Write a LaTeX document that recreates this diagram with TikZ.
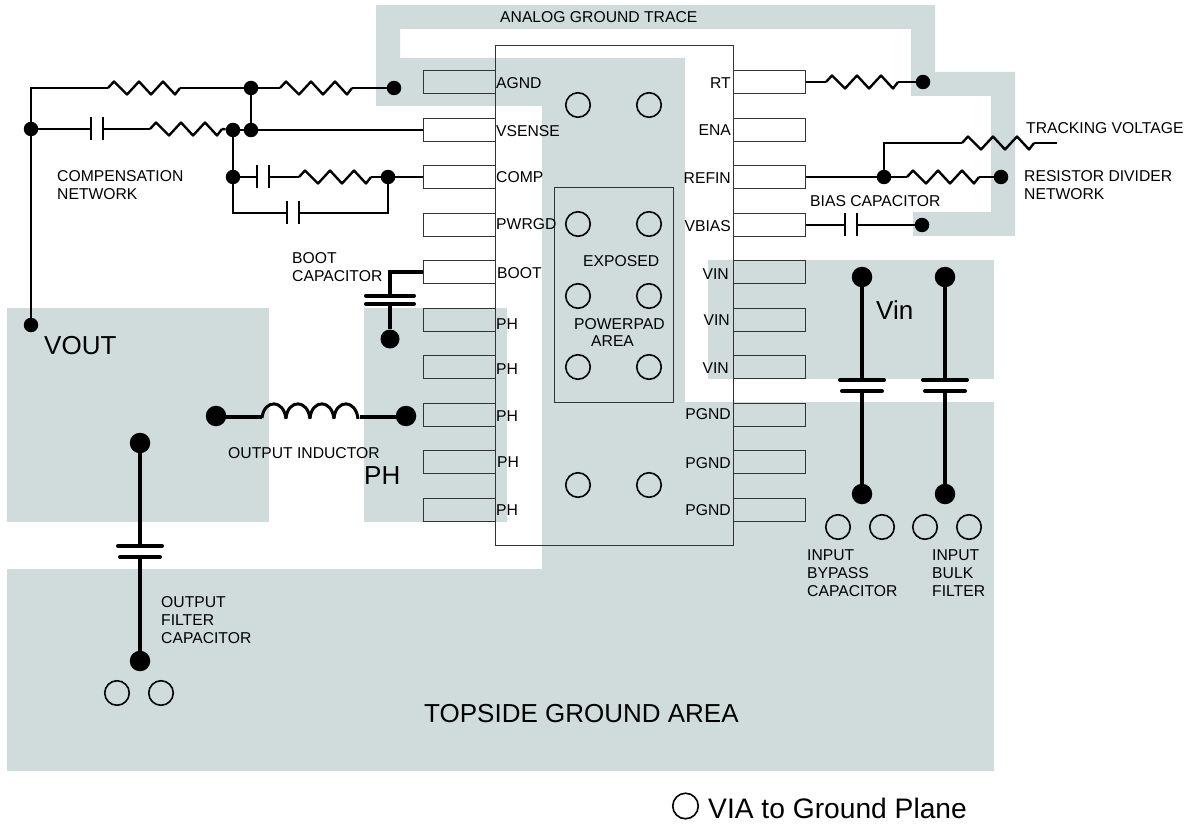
\documentclass[tikz,border=0pt]{standalone}
\usepackage{fontspec}
\setmainfont{Liberation Sans}

\definecolor{padgray}{HTML}{D0DCDC}

\begin{document}
\begin{tikzpicture}[x=1pt, y=-1pt,
    wire/.style={line width=2.4pt},
    thickwire/.style={line width=3.6pt},
    plate/.style={line width=2.4pt},
    heavyplate/.style={line width=4pt, line cap=round},
    dot/.style={circle, fill=black, inner sep=0pt, minimum size=14.5pt},
    bigdot/.style={circle, fill=black, inner sep=0pt, minimum size=20.5pt},
    via/.style={circle, draw=black, line width=1.6pt, inner sep=0pt, minimum size=24.5pt},
    pad/.style={draw=black!80, line width=1pt, inner sep=0pt, minimum width=72pt, minimum height=23.5pt},
    txt/.style={inner sep=0pt, anchor=west, align=left, font=\fontsize{15.7}{18}\selectfont},
    pinr/.style={inner sep=0pt, anchor=east, font=\fontsize{15.7}{18}\selectfont},
    bigtxt/.style={inner sep=0pt, anchor=west, font=\fontsize{26}{30}\selectfont},
    pics/resistor/.style={code={
      \coordinate (-in) at (0,0);
      \coordinate (-out) at (72,0);
      \draw[wire, line join=round] (0,0) -- (6,-6.5) -- (19,6.5) -- (31,-6.5) -- (43,6.5) -- (55,-6.5) -- (67,6.5) -- (72,0);
    }},
    pics/hcapacitor/.style={code={
      \coordinate (-in) at (0,0);
      \coordinate (-out) at (12,0);
      \draw[plate] (0,-11.5) -- (0,11.5);
      \draw[plate] (12,-11.5) -- (12,11.5);
    }},
    pics/vcapacitor/.style n args={3}{code={
      \coordinate (-in) at (0,0);
      \coordinate (-out) at (0,#3);
      \draw[heavyplate] (-#1,0) -- (#1,0);
      \draw[heavyplate] (-#2,#3) -- (#2,#3);
    }}]
  \useasboundingbox (0,0) rectangle (1190,826);

  % copper areas
  \fill[padgray] (376,5) -- (935,5) -- (935,72) -- (1015,72) -- (1015,236) -- (913,236)
    -- (913,212) -- (991,212) -- (991,96) -- (911,96) -- (911,29) -- (400,29) -- (400,58)
    -- (685,58) -- (685,402) -- (994,402) -- (994,771) -- (7,771) -- (7,569) -- (542,569)
    -- (542,106) -- (376,106) -- cycle;
  \fill[padgray] (708,260) rectangle (994,379);
  \fill[padgray] (7,308) rectangle (269,522);
  \fill[padgray] (364,308) rectangle (507,522);

  % package
  \node[draw=black!80, line width=1pt, inner sep=0pt, minimum width=238pt, minimum height=499pt] (chip) at (614,295.5) {};
  \node[draw=black!80, line width=1pt, inner sep=0pt, minimum width=119pt, minimum height=214pt] (powerpad) at (613.5,295) {};

  \foreach \name/\y in {agnd/82, vsense/130, comp/177, pwrgd/225, boot/272, pha/320, phb/367, phc/415, phd/462, phe/510}
    \node[pad] (\name) at (459,\y) {};
  \foreach \name/\y in {rt/82, ena/130, refin/177, vbias/225, vina/272, vinb/320, vinc/367, pgnda/415, pgndb/462, pgndc/510}
    \node[pad] (\name) at (769,\y) {};

  \node[txt] (lagnd) at (496,83) {AGND};
  \node[txt] (lvsense) at (496,131) {VSENSE};
  \node[txt] (lcomp) at (496,177) {COMP};
  \node[txt] (lpwrgd) at (496,224) {PWRGD};
  \node[txt] (lboot) at (497,273) {BOOT};
  \node[txt] (lpha) at (496,324) {PH};
  \node[txt] (lphb) at (496,369) {PH};
  \node[txt] (lphc) at (496,416) {PH};
  \node[txt] (lphd) at (497,462) {PH};
  \node[txt] (lphe) at (496,510) {PH};

  \node[pinr] (lrt) at (731,83) {RT};
  \node[pinr] (lena) at (731,130) {ENA};
  \node[pinr] (lrefin) at (731,178) {REFIN};
  \node[pinr] (lvbias) at (731,226) {VBIAS};
  \node[pinr] (lvina) at (729,274) {VIN};
  \node[pinr] (lvinb) at (730,320) {VIN};
  \node[pinr] (lvinc) at (729,368) {VIN};
  \node[pinr] (lpgnda) at (731,414) {PGND};
  \node[pinr] (lpgndb) at (731,463) {PGND};
  \node[pinr] (lpgndc) at (731,510) {PGND};

  \foreach \x/\y [count=\i] in {578/105, 649/105, 578/224, 649/224, 578/296, 649/296, 578/367, 649/367,
      578/485, 649/485, 838/527, 882/527, 925/527, 969/527, 117/693, 161/693}
    \node[via] (via\i) at (\x,\y) {};
  \node[via, minimum size=25.5pt] (vialegend) at (685.5,806) {};

  % compensation network
  \node[dot] (dvout) at (31,325) {};
  \node[dot] (dleft) at (31,129) {};
  \coordinate (ctop) at (31,88);
  \node[dot] (dtop) at (251,88) {};
  \node[dot] (dagnd) at (394,88) {};
  \node[dot] (dsense) at (251,130) {};
  \node[dot] (dzero) at (233,130) {};
  \node[dot] (dcompl) at (233,177) {};
  \node[dot] (dcompr) at (388,177) {};
  \coordinate (cbl) at (233,213);
  \coordinate (cbr) at (388,213);

  \pic (rtop) at (108,88) {resistor};
  \pic (ragnd) at (280,88) {resistor};
  \pic (cleft) at (91,129) {hcapacitor};
  \pic (rleft) at (150,129) {resistor};
  \pic (cmid) at (257,177) {hcapacitor};
  \pic (rmid) at (299,177) {resistor};
  \pic (clow) at (287,213) {hcapacitor};

  \draw[wire] (dvout) -- (dleft) -- (ctop) -- (rtop-in);
  \draw[wire] (rtop-out) -- (dtop) -- (ragnd-in);
  \draw[wire] (ragnd-out) -- (dagnd);
  \draw[wire] (dtop) -- (dsense);
  \draw[wire] (dsense) -- (vsense);
  \draw[wire] (dleft) -- (cleft-in);
  \draw[wire] (cleft-out) -- (rleft-in);
  \draw[wire] (rleft-out) -- (dzero);
  \draw[wire] (dzero) -- (dsense);
  \draw[wire] (dzero) -- (dcompl) -- (cbl) -- (clow-in);
  \draw[wire] (dcompl) -- (cmid-in);
  \draw[wire] (cmid-out) -- (rmid-in);
  \draw[wire] (rmid-out) -- (dcompr) -- (comp);
  \draw[wire] (clow-out) -- (cbr) -- (dcompr);

  % right side parts
  \node[dot] (drt) at (923,82) {};
  \node[dot] (drefin) at (884,177) {};
  \node[dot] (ddiv) at (1001,177) {};
  \node[dot] (dbias) at (922,225) {};
  \coordinate (ctrack) at (884,143);
  \coordinate (ctrackend) at (1057,143);

  \pic (rrt) at (826,82) {resistor};
  \pic (rdiv) at (907,177) {resistor};
  \pic (rtrack) at (962,143) {resistor};
  \pic (cbias) at (845,225) {hcapacitor};

  \draw[wire] (rt) -- (rrt-in);
  \draw[wire] (rrt-out) -- (drt);
  \draw[wire] (refin) -- (drefin) -- (rdiv-in);
  \draw[wire] (rdiv-out) -- (ddiv);
  \draw[wire] (drefin) -- (ctrack) -- (rtrack-in);
  \draw[wire] (rtrack-out) -- (ctrackend);
  \draw[wire] (vbias) -- (cbias-in);
  \draw[wire] (cbias-out) -- (dbias);

  % boot capacitor
  \coordinate (cboot) at (390,272);
  \node[bigdot, minimum size=19pt] (dboot) at (390,339) {};
  \pic (cb) at (390,295.5) {vcapacitor={24}{24}{8.5}};
  \draw[thickwire] (boot) -- (cboot) -- (cb-in);
  \draw[thickwire] (cb-out) -- (dboot);

  % input capacitors
  \node[bigdot] (dvina) at (862,277) {};
  \node[bigdot] (dvinb) at (945,277) {};
  \node[bigdot] (dgnda) at (862,494) {};
  \node[bigdot] (dgndb) at (945,494) {};
  \pic (cvina) at (862,380) {vcapacitor={22}{20}{11}};
  \pic (cvinb) at (945,380) {vcapacitor={22}{20}{11}};
  \draw[thickwire] (dvina) -- (cvina-in);
  \draw[thickwire] (cvina-out) -- (dgnda);
  \draw[thickwire] (dvinb) -- (cvinb-in);
  \draw[thickwire] (cvinb-out) -- (dgndb);

  % output inductor
  \node[bigdot] (dla) at (216,416) {};
  \node[bigdot] (dlb) at (406,416) {};
  \coordinate (cla) at (262,417);
  \coordinate (clb) at (360,417);
  \draw[thickwire] (dla) -- (dla |- cla) -- (cla);
  \foreach \s in {0,24,48,72}
    \draw[line width=3pt] (262+\s,418) .. controls (264+\s,399) and (284+\s,399) .. (286+\s,419);
  \draw[thickwire] (clb) -- (dlb |- clb) -- (dlb);

  % output capacitor
  \node[bigdot] (dcouta) at (140,443) {};
  \node[bigdot] (dcoutb) at (140,661) {};
  \pic (cout) at (140,546) {vcapacitor={22}{20}{11}};
  \draw[thickwire] (dcouta) -- (cout-in);
  \draw[thickwire] (cout-out) -- (dcoutb);

  % texts
  \node[txt] (ttrace) at (500,17) {ANALOG GROUND TRACE};
  \node[txt] (tcomp) at (57,185) {COMPENSATION\\NETWORK};
  \node[txt] (tboot) at (292,267) {BOOT\\CAPACITOR};
  \node[txt] (tlout) at (228,453) {OUTPUT INDUCTOR};
  \node[txt] (tcout) at (161,620) {OUTPUT\\FILTER\\CAPACITOR};
  \node[txt] (ttrack) at (1026,128.5) {TRACKING VOLTAGE};
  \node[txt] (tdiv) at (1024,185) {RESISTOR DIVIDER\\NETWORK};
  \node[txt] (tbias) at (810,201) {BIAS CAPACITOR};
  \node[txt] (texp) at (583,261) {EXPOSED};
  \node[txt] (tpower) at (574,324) {POWERPAD};
  \node[txt] (tarea) at (591,341) {AREA};
  \node[txt] (tbyp) at (807,573) {INPUT\\BYPASS\\CAPACITOR};
  \node[txt] (tbulk) at (932,573) {INPUT\\BULK\\FILTER};
  \node[bigtxt] (tvout) at (44,346) {VOUT};
  \node[bigtxt] (tvin) at (876,310) {Vin};
  \node[bigtxt] (tph) at (364,476) {PH};
  \node[bigtxt] (ttop) at (424,714) {TOPSIDE GROUND AREA};
  \node[bigtxt, font=\fontsize{28.2}{33}\selectfont] (tleg) at (708,808) {VIA to Ground Plane};
\end{tikzpicture}
\end{document}
